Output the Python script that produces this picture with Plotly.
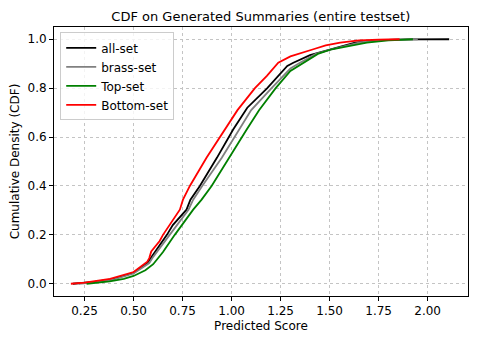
import plotly.graph_objects as go

all_score = [0.19, 0.30, 0.40, 0.50, 0.57, 0.60, 0.65, 0.67, 0.70, 0.77, 0.79, 0.838, 0.925,
             0.985, 1.008, 1.08, 1.182, 1.284, 1.315, 1.40, 1.503, 1.63, 1.75, 1.90, 2.11]
all_cdf = [0.0, 0.008, 0.02, 0.045, 0.085, 0.12, 0.175, 0.2, 0.24, 0.303, 0.344, 0.4, 0.515,
           0.6, 0.631, 0.72, 0.8, 0.891, 0.904, 0.935, 0.959, 0.986, 0.996, 0.999, 1.0]

brass_score = [0.22, 0.30, 0.40, 0.50, 0.58, 0.60, 0.684, 0.78, 0.804, 0.85, 0.95, 1.015, 1.04,
               1.10, 1.204, 1.30, 1.349, 1.43, 1.511, 1.66, 1.80, 1.95]
brass_cdf = [0.0, 0.006, 0.018, 0.042, 0.085, 0.11, 0.2, 0.303, 0.344, 0.4, 0.515, 0.6, 0.631,
             0.71, 0.8, 0.88, 0.904, 0.94, 0.959, 0.988, 0.997, 1.0]

top_score = [0.26, 0.30, 0.378, 0.45, 0.50, 0.56, 0.60, 0.65, 0.71, 0.804, 0.847, 0.898, 0.985,
             1.05, 1.077, 1.14, 1.225, 1.30, 1.366, 1.44, 1.511, 1.69, 1.80, 1.925]
top_cdf = [0.0, 0.003, 0.01, 0.02, 0.032, 0.055, 0.08, 0.13, 0.2, 0.303, 0.344, 0.4, 0.515,
           0.6, 0.631, 0.71, 0.8, 0.87, 0.904, 0.94, 0.959, 0.986, 0.995, 1.0]

bottom_score = [0.18, 0.25, 0.38, 0.50, 0.57, 0.58, 0.59, 0.633, 0.65, 0.736, 0.752, 0.787, 0.872,
                0.94, 0.966, 1.03, 1.119, 1.18, 1.238, 1.30, 1.417, 1.48, 1.554, 1.65,
                1.75, 1.857]
bottom_cdf = [0.0, 0.005, 0.02, 0.048, 0.09, 0.105, 0.132, 0.175, 0.2, 0.303, 0.344, 0.4, 0.515,
              0.6, 0.631, 0.71, 0.8, 0.85, 0.904, 0.93, 0.959, 0.975, 0.986, 0.995,
              0.998, 1.0]

x_ticks = [0.25, 0.50, 0.75, 1.00, 1.25, 1.50, 1.75, 2.00]
y_ticks = [0.0, 0.2, 0.4, 0.6, 0.8, 1.0]

series = [
    ("all-set", all_score, all_cdf, "black"),
    ("brass-set", brass_score, brass_cdf, "#808080"),
    ("Top-set", top_score, top_cdf, "#008000"),
    ("Bottom-set", bottom_score, bottom_cdf, "#ff0000"),
]

fig = go.Figure()
for name, xs, ys, color in series:
    fig.add_trace(go.Scatter(x=xs, y=ys, mode="lines", name=name,
                             line=dict(color=color, width=1.8)))

axis_style = dict(
    showline=True, linecolor="black", linewidth=1, mirror=True,
    ticks="outside", ticklen=4, tickcolor="black",
    showgrid=True, gridcolor="#c4c4c4", griddash="dot", gridwidth=0.8,
    zeroline=False, tickfont=dict(size=12, color="black"), automargin=False,
)

fig.update_xaxes(range=[0.094, 2.206], tickvals=x_ticks, tickformat=".2f",
                 title=dict(text="Predicted Score", font=dict(size=12, color="black"), standoff=4),
                 **axis_style)
fig.update_yaxes(range=[-0.05, 1.05], tickvals=y_ticks, tickformat=".1f",
                 title=dict(text="Cumulative Density (CDF)", font=dict(size=12, color="black"), standoff=8),
                 **axis_style)

# page body adds an 8px offset, so the figure is sized to fit the window
fig.update_layout(
    width=469, height=335,
    margin=dict(l=46, r=9, t=19, b=47, autoexpand=False),
    paper_bgcolor="white", plot_bgcolor="white",
    font=dict(family="DejaVu Sans", color="black"),
    title=dict(text="CDF on Generated Summaries (entire testset)", x=0.539, xanchor="center",
               yref="container", y=0.988, yanchor="top", pad=dict(t=0, b=0),
               font=dict(size=13, color="black"), automargin=False),
    legend=dict(x=0.015, y=0.98, xanchor="left", yanchor="top",
                bgcolor="rgba(255,255,255,0.8)", bordercolor="#cccccc", borderwidth=1,
                font=dict(size=12, color="black"), tracegroupgap=0),
    showlegend=True,
)

fig.write_html("out.html")
